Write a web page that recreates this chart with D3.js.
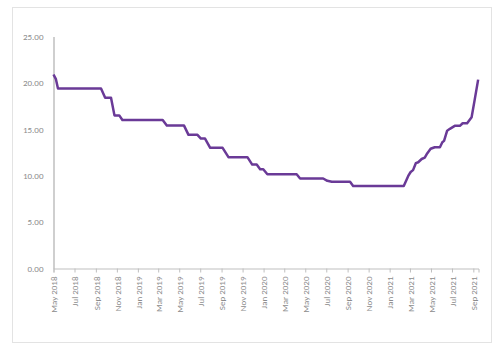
<!DOCTYPE html>
<html>
<head>
<meta charset="utf-8">
<script src="https://cdn.jsdelivr.net/npm/d3@7"></script>
<style>
	body { margin: 0; background: #fff; }
	.axis text { font-family: Calibri, Carlito, "Liberation Sans", sans-serif; font-size: 9px; fill: #8c8c8c; }
	.axis path, .axis line { stroke: #bfbfbf; }
</style>
</head>
<body>
<div id="chart"></div>
<script>
// data
var dates = [
	"2018-05-01", "2018-05-08", "2018-05-14", "2018-09-16", "2018-09-28", "2018-10-15",
	"2018-10-25", "2018-11-08", "2018-11-17", "2019-03-14", "2019-03-26", "2019-05-15",
	"2019-05-28", "2019-06-23", "2019-07-03", "2019-07-15", "2019-07-30", "2019-09-04",
	"2019-09-21", "2019-11-15", "2019-11-29", "2019-12-12", "2019-12-22", "2019-12-31",
	"2020-01-12", "2020-04-06", "2020-04-16", "2020-06-22", "2020-07-04", "2020-07-17",
	"2020-09-08", "2020-09-17", "2021-02-11", "2021-02-24", "2021-03-03", "2021-03-10",
	"2021-03-18", "2021-03-25", "2021-04-04", "2021-04-13", "2021-04-20", "2021-04-30",
	"2021-05-12", "2021-05-27", "2021-06-03", "2021-06-08", "2021-06-17", "2021-06-25",
	"2021-07-09", "2021-07-24", "2021-08-01", "2021-08-14", "2021-08-27", "2021-09-05",
	"2021-09-15"
];
var values = [
	20.9, 20.4, 19.4, 19.4, 18.4, 18.4,
	16.5, 16.5, 16.0, 16.0, 15.4, 15.4,
	14.4, 14.4, 14.0, 14.0, 13.0, 13.0,
	12.0, 12.0, 11.2, 11.2, 10.7, 10.7,
	10.15, 10.15, 9.7, 9.7, 9.45, 9.35,
	9.35, 8.9, 8.9, 9.97, 10.4, 10.6,
	11.35, 11.45, 11.8, 11.95, 12.4, 12.9,
	13.07, 13.07, 13.6, 13.75, 14.85, 15.05,
	15.37, 15.37, 15.65, 15.65, 16.3, 18.2,
	20.35
];
var yTicks = [0, 5, 10, 15, 20, 25];

var parse = d3.timeParse("%Y-%m-%d");
var series = dates.map(function(d, i) { return { date: parse(d), value: values[i] }; });

var W = 500, H = 354;
var svg = d3.select("#chart").append("svg")
	.attr("width", W)
	.attr("height", H);

// chart frame
svg.append("rect")
	.attr("x", 12.5).attr("y", 7.5)
	.attr("width", 479).attr("height", 335)
	.attr("fill", "none")
	.attr("stroke", "#e3e3e3");

var plot = { left: 53.5, right: 478.5, top: 36.5, bottom: 268.5 };

var x = d3.scaleTime()
	.domain([parse("2018-05-01"), parse("2021-09-16")])
	.range([plot.left, plot.right]);

var y = d3.scaleLinear()
	.domain([0, 25])
	.range([plot.bottom, plot.top]);

// y axis
var yAxis = svg.append("g")
	.attr("class", "axis")
	.attr("transform", "translate(" + plot.left + ",0)")
	.call(d3.axisLeft(y).tickValues(yTicks).tickSize(0).tickPadding(10)
		.tickFormat(d3.format(".2f")));
yAxis.select(".domain").attr("stroke-width", 1.5);

// x axis, every 2 months
var xAxis = svg.append("g")
	.attr("class", "axis")
	.attr("transform", "translate(0," + plot.bottom + ")")
	.call(d3.axisBottom(x)
		.ticks(d3.timeMonth.every(2))
		.tickSizeOuter(4)
		.tickSize(4)
		.tickFormat(d3.timeFormat("%b %Y")));
xAxis.selectAll("text")
	.attr("transform", "rotate(-90)")
	.attr("text-anchor", "end")
	.attr("dy", "0.35em")
	.attr("x", -8)
	.attr("y", 0);

// line
var line = d3.line()
	.x(function(d) { return x(d.date); })
	.y(function(d) { return y(d.value); });

svg.append("path")
	.datum(series)
	.attr("fill", "none")
	.attr("stroke", "#6a3a97")
	.attr("stroke-width", 2.5)
	.attr("stroke-linejoin", "round")
	.attr("d", line);
</script>
</body>
</html>
